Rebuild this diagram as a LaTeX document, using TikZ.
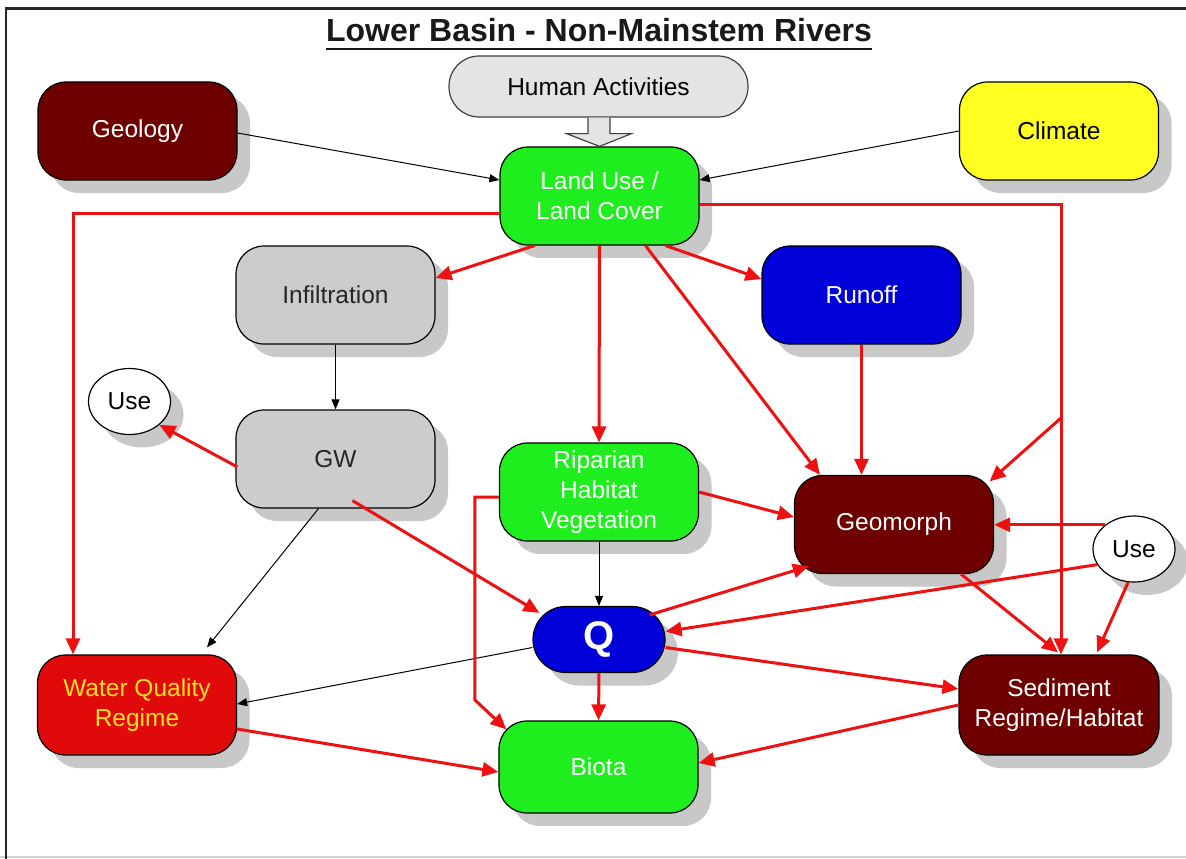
\documentclass[tikz,border=0pt]{standalone}
\usepackage{fontspec}
\setmainfont{Liberation Sans}
\usetikzlibrary{arrows.meta,calc,shadows,shapes.geometric}

\definecolor{cMaroon}{HTML}{6E0000}
\definecolor{cGreen}{HTML}{1EEE1E}
\definecolor{cBlue}{HTML}{0000D8}
\definecolor{cWQ}{HTML}{E00A0A}
\definecolor{cWQText}{HTML}{FFE020}
\definecolor{cYellow}{HTML}{FFFF22}
\definecolor{cGrey}{HTML}{CCCCCC}
\definecolor{cHuman}{HTML}{E4E4E4}
\definecolor{cArrow}{HTML}{EE1111}
\definecolor{cShadow}{HTML}{C8C8C8}

\tikzset{
  shadowed/.style={drop shadow={shadow xshift=13pt,shadow yshift=-13pt,fill=cShadow,opacity=1}},
  box/.style={draw=black, line width=1.2pt, rounded corners=28pt,
    minimum width=199pt, minimum height=98pt, inner sep=0pt, align=center,
    font=\fontsize{24.5}{30}\selectfont, shadowed},
  usebox/.style={ellipse, draw=black, line width=1.2pt, fill=white,
    minimum width=82pt, minimum height=66pt, inner sep=0pt,
    font=\fontsize{24.5}{30}\selectfont, shadowed},
  redarrow/.style={draw=cArrow, line width=3pt, -{Triangle[length=16pt,width=14pt]}},
  blkarrow/.style={draw=black, line width=1pt, -{Triangle[length=10pt,width=8pt]}},
}

\begin{document}
\begin{tikzpicture}[x=1pt,y=-1pt]
\useasboundingbox (0,0) rectangle (1186,859);

% frame
\draw[line width=1.5pt, black!18] (0,857) -- (1186,857);
\draw[line width=2.5pt, black!85] (6,859) -- (6,8.5) -- (1186,8.5);

% title
\node[anchor=base, inner sep=0pt, font=\fontsize{32}{38}\selectfont\bfseries, text=black!90]
  (title) at (599,42) {Lower Basin - Non-Mainstem Rivers};
\draw[line width=2.5pt, black!90] ($(title.base west)+(0,7)$) -- ($(title.base east)+(0,7)$);

% boxes
\node[draw=black!75, line width=1.2pt, fill=cHuman, rounded corners=30pt,
  minimum width=299pt, minimum height=61pt, inner sep=0pt,
  font=\fontsize{24.5}{30}\selectfont] (hum) at (598.5,86.5) {Human Activities};

\node[box, fill=cMaroon, text=white] (geol) at (137.5,131) {Geology};
\node[box, fill=cYellow, text=black] (clim) at (1059,131) {Climate};
\node[box, fill=cGreen, text=white] (lu) at (599.5,196) {Land Use /\\Land Cover};
\node[box, fill=cGrey, text=black!85] (inf) at (335.5,295) {Infiltration};
\node[box, fill=cBlue, text=white] (run) at (861.5,295) {Runoff};
\node[usebox] (useL) at (129.5,401.5) {Use};
\node[box, fill=cGrey, text=black!85] (gw) at (335.5,459) {GW};
\node[box, fill=cGreen, text=white] (rip) at (599,492) {Riparian\\Habitat\\Vegetation};
\node[box, fill=cMaroon, text=white] (geo) at (894,524.5) {Geomorph};
\node[usebox] (useR) at (1134,549) {Use};
\node[box, fill=cBlue, text=white, rounded corners=33pt, minimum width=132pt,
  minimum height=66pt, font=\fontsize{40}{44}\selectfont\bfseries] (q) at (599,639.5) {Q};
\node[box, fill=cWQ, text=cWQText, minimum height=100pt] (wq) at (137,705) {Water Quality\\Regime};
\node[box, fill=cMaroon, text=white, minimum width=200pt, minimum height=100pt] (sed) at (1059,705) {Sediment\\Regime/Habitat};
\node[box, fill=cGreen, text=white, minimum height=92pt] (bio) at (598.5,767) {Biota};

% block arrow from Human Activities into Land Use
\draw[draw=black!75, line width=1.2pt, fill=cHuman]
  ($(hum.south)+(-10.5,0)$) -- ($(hum.south)+(-10.5,16)$) -- ($(hum.south)+(-32,16)$)
  -- (lu.north) -- ($(hum.south)+(33,16)$) -- ($(hum.south)+(11.5,16)$)
  -- ($(hum.south)+(11.5,0)$);

% thin black influences
\draw[blkarrow] ($(geol.east)+(0,2)$) -- ($(lu.west)+(0,-16)$);
\draw[blkarrow] (clim.west) -- ($(lu.east)+(0,-16)$);
\draw[blkarrow] (inf.south) -- (gw.north);
\draw[blkarrow] ($(gw.south)+(-17,0)$) -- ($(wq.north)+(70,-7)$);
\draw[blkarrow] (rip.south) -- (q.north);
\draw[blkarrow] ($(q.west)+(0,8)$) -- ($(wq.east)+(0,-1)$);

% red influences
\draw[redarrow] ($(lu.west)+(0,17)$) -| ($(wq.north)+(-64,0)$);
\draw[redarrow] ($(lu.east)+(0,8)$) -| ($(sed.north)+(2,0)$);
\coordinate (br) at (1061,418);
\draw[redarrow] (br) -- ($(geo.north east)+(-4.5,6.5)$);
\draw[redarrow] ($(lu.south)+(-65,0)$) -- ($(inf.east)+(0,-17)$);
\draw[redarrow] (lu.south) -- (rip.north);
\draw[redarrow] ($(lu.south)+(66,0)$) -- ($(run.west)+(0,-16)$);
\draw[redarrow] ($(lu.south)+(46,0)$) -- ($(geo.north)+(-74,0)$);
\draw[redarrow] (run.south) -- (run.south |- geo.north);
\draw[redarrow] ($(gw.west)+(2,8)$) -- (useL.-38);
\draw[redarrow] ($(gw.south)+(17,-8)$) -- ($(q.north west)+(7,7)$);
\draw[redarrow] (rip.east) -- ($(geo.west)+(0,-7.5)$);
\draw[redarrow] ($(rip.west)+(0,5)$) -- ++(-24,0) -- ++(0,203) -- ($(bio.north west)+(8,9)$);
\draw[redarrow] ($(q.north east)+(-16,9)$) -- ($(geo.south west)+(15,-8)$);
\draw[redarrow] (useR.140) -- (geo.east |- useR.140);
\draw[redarrow] (useR.-157) -- ($(q.east)+(0,-8)$);
\draw[redarrow] (useR.-100) -- ($(sed.north)+(38,-2)$);
\draw[redarrow] ($(geo.south)+(67,0)$) -- ($(sed.north)+(-1,-2)$);
\draw[redarrow] ($(q.east)+(0,8)$) -- ($(sed.west)+(0,-16)$);
\draw[redarrow] (q.south) -- (bio.north);
\draw[redarrow] ($(wq.east)+(0,24)$) -- ($(bio.west)+(0,5)$);
\draw[redarrow] (sed.west) -- ($(bio.east)+(0,-4)$);
\end{tikzpicture}
\end{document}
